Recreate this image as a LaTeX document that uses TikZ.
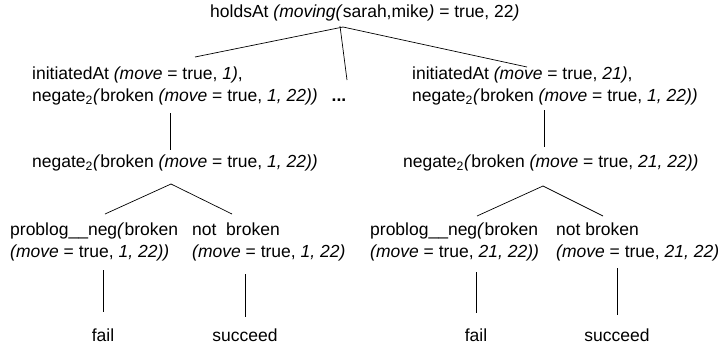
\documentclass[tikz,border=0pt]{standalone}
\usepackage{fontspec}
\setmainfont{Liberation Sans}
\tikzset{
  lbl/.style={inner sep=0pt, anchor=west, align=left, font=\fontsize{17.5}{22}\selectfont},
  leaf/.style={inner sep=0pt, font=\fontsize{17.5}{22}\selectfont},
  edge/.style={line width=0.7pt}
}
\begin{document}
\begin{tikzpicture}[x=1pt, y=-1pt]
\useasboundingbox (0,0) rectangle (725,349);

\node[lbl] (root) at (210,13) {holdsAt \textit{(moving(}sarah,mike\textit{)} = true, 22\textit{)}};
\node[lbl] (init1) at (32,86) {initiatedAt \textit{(move} = true, \textit{1)},\\negate\textsubscript{2}\textit{(}broken \textit{(move} = true, \textit{1, 22))}};
\node[leaf] (dots) at (339,100) {\textbf{...}};
\node[lbl] (init2) at (412,86) {initiatedAt \textit{(move} = true, \textit{21)},\\negate\textsubscript{2}\textit{(}broken \textit{(move} = true, \textit{1, 22))}};
\node[lbl] (neg1) at (32,163) {negate\textsubscript{2}\textit{(}broken \textit{(move} = true, \textit{1, 22))}};
\node[lbl] (neg2) at (403,163) {negate\textsubscript{2}\textit{(}broken \textit{(move} = true, \textit{21, 22))}};
\node[lbl] (pn1) at (10,242) {problog\_\_neg\textit{(}broken\\\textit{(move} = true, \textit{1, 22))}};
\node[lbl] (nb1) at (192,242) {not\ \ broken\\\textit{(move} = true, \textit{1, 22)}};
\node[lbl] (pn2) at (370,242) {problog\_\_neg\textit{(}broken\\\textit{(move} = true, \textit{21, 22))}};
\node[lbl] (nb2) at (556,242) {not broken\\\textit{(move} = true, \textit{21, 22)}};
\node[leaf] (fail1) at (103,335) {fail};
\node[leaf] (succ1) at (245,335) {succeed};
\node[leaf] (fail2) at (476,335) {fail};
\node[leaf] (succ2) at (617,335) {succeed};

\draw[edge] ([shift={(133,14)}]root.west) -- ([shift={(163,-29)}]init1.west);
\draw[edge] ([shift={(130,13)}]root.west) -- ([shift={(8,-20)}]dots.center);
\draw[edge] ([shift={(133,14)}]root.west) -- ([shift={(115,-19)}]init2.west);
\draw[edge] ([shift={(138,27)}]init1.west) -- ([shift={(138,-13)}]neg1.west);
\draw[edge] ([shift={(132,24)}]init2.west) -- ([shift={(141,-16)}]neg2.west);
\draw[edge] ([shift={(139,21)}]neg1.west) -- ([shift={(95,-28)}]pn1.west);
\draw[edge] ([shift={(139,21)}]neg1.west) -- ([shift={(40,-28)}]nb1.west);
\draw[edge] ([shift={(140,23)}]neg2.west) -- ([shift={(107,-26)}]pn2.west);
\draw[edge] ([shift={(140,23)}]neg2.west) -- ([shift={(47,-26)}]nb2.west);
\draw[edge] ([shift={(93,28)}]pn1.west) -- ([shift={(0,-23)}]fail1.center);
\draw[edge] ([shift={(53,32)}]nb1.west) -- ([shift={(0,-18)}]succ1.center);
\draw[edge] ([shift={(106,30)}]pn2.west) -- ([shift={(0,-22)}]fail2.center);
\draw[edge] ([shift={(61,26)}]nb2.west) -- ([shift={(0,-20)}]succ2.center);

\end{tikzpicture}
\end{document}
